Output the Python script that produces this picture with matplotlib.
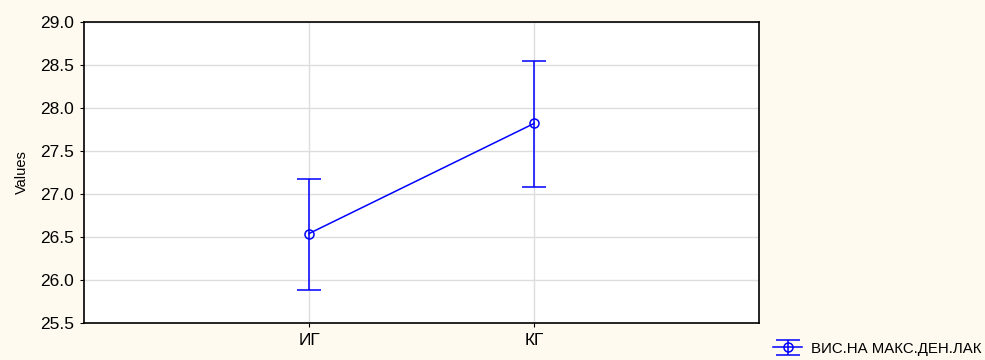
import matplotlib.pyplot as plt

# 数据: 组别, 均值, 置信区间上下限
groups = ['ИГ', 'КГ']
means = [26.54, 27.82]
upper = [27.17, 28.55]
lower = [25.88, 27.08]
series_name = 'ВИС.НА МАКС.ДЕН.ЛАК'

plt.rcParams['font.family'] = ['Liberation Sans', 'DejaVu Sans']

fig = plt.figure(figsize=(9.85, 3.6), dpi=100, facecolor='#FFFAF0')
ax = fig.add_axes([0.0853, 0.1028, 0.6853, 0.8361])
ax.set_facecolor('white')

xpos = list(range(1, len(groups) + 1))
err_lo = [m - l for m, l in zip(means, lower)]
err_hi = [u - m for m, u in zip(means, upper)]

ax.errorbar(xpos, means, yerr=[err_lo, err_hi], color='#0000FF', lw=1.1,
            marker='o', markersize=6.5, markerfacecolor='none', markeredgewidth=1.1,
            capsize=8.5, capthick=1.1, elinewidth=1.1, label=series_name, zorder=3)

ax.set_xlim(0, 3)
ax.set_ylim(25.5, 29.0)
ax.set_xticks(xpos)
ax.set_xticklabels(groups)
ax.set_yticks([25.5, 26.0, 26.5, 27.0, 27.5, 28.0, 28.5, 29.0])
ax.set_yticklabels(['%.1f' % v for v in ax.get_yticks()])
ax.grid(True, color='#DDDDDD', lw=1, zorder=0)
ax.set_axisbelow(True)
ax.tick_params(labelsize=12.5, direction='out', length=3, color='black', pad=4)
for s in ax.spines.values():
    s.set_linewidth(1.2)
ax.set_ylabel('Values', fontsize=10.5, labelpad=8)

fig.legend(loc='lower right', bbox_to_anchor=(1.01, -0.025), frameon=False,
           fontsize=10.8, handlelength=1.9, handletextpad=0.6)

fig.savefig('out.png', dpi=100, facecolor=fig.get_facecolor())
